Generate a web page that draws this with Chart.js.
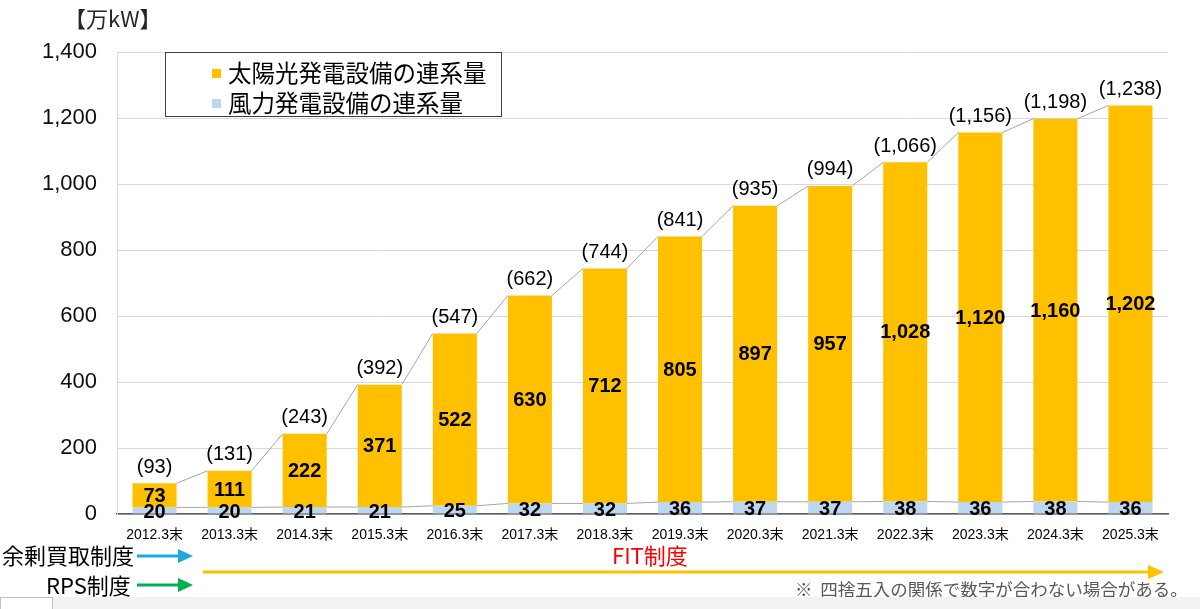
<!DOCTYPE html>
<html lang="ja">
<head>
<meta charset="utf-8">
<script src="https://cdn.jsdelivr.net/npm/chart.js@4.4.1/dist/chart.umd.min.js"></script>
<style>
  html, body { margin:0; padding:0; background:#fff; }
  body { width:1200px; height:609px; position:relative; overflow:hidden;
         font-family:'Liberation Sans','Noto Sans CJK JP',sans-serif; }
  #wrap { position:absolute; left:0; top:0; width:1200px; height:609px; }
  .abs { position:absolute; white-space:nowrap; line-height:1; }
  .jp { font-family:'Noto Sans CJK JP','Liberation Sans',sans-serif; }
  #legend { position:absolute; left:165px; top:52px; width:337px; height:65px;
            border:1px solid #404040; background:#fff; box-sizing:border-box; }
  .lg-item { position:absolute; left:46px; height:26px; display:flex; align-items:center; }
  .lg-mark { width:9px; height:9px; margin-right:7px; }
  .lg-text { font-size:23.5px; color:#000; font-family:'Noto Sans CJK JP',sans-serif; line-height:1; }
</style>
</head>
<body>
<div id="wrap"><canvas id="c" width="1200" height="609"></canvas></div>

<div class="abs jp" style="left:64px; top:6px; font-size:22px; color:#262626;">【万kW】</div>
<div id="legend"></div>

<div class="abs jp" style="left:2px; top:543px; font-size:22px; color:#000;">余剰買取制度</div>
<div class="abs jp" style="left:46px; top:573px; font-size:22px; color:#000;">RPS制度</div>
<div class="abs jp" style="left:612px; top:543px; font-size:22px; color:#ff0000;">FIT制度</div>
<div class="abs jp" style="left:795px; top:580px; font-size:17.5px; color:#595959;">※&nbsp;&nbsp;四捨五入の関係で数字が合わない場合がある。</div>

<svg class="abs" style="left:0; top:0;" width="1200" height="609">
  <line x1="137" y1="556" x2="180" y2="556" stroke="#1fa8e0" stroke-width="3"/>
  <polygon points="178,549 193,556 178,563" fill="#1fa8e0"/>
  <line x1="137" y1="585" x2="180" y2="585" stroke="#00b050" stroke-width="3"/>
  <polygon points="178,578 193,585 178,592" fill="#00b050"/>
  <line x1="203" y1="572" x2="1150" y2="572" stroke="#ffc000" stroke-width="3"/>
  <polygon points="1148,565 1164,572 1148,579" fill="#ffc000"/>
  <rect x="0" y="597" width="1200" height="12" fill="#f2f2f2"/>
  <rect x="0.5" y="597.5" width="52" height="12" fill="#fff" stroke="#bfbfbf"/>
</svg>

<script>
// ---- data ----
const categories = ['2012.3末','2013.3末','2014.3末','2015.3末','2016.3末','2017.3末','2018.3末',
                    '2019.3末','2020.3末','2021.3末','2022.3末','2023.3末','2024.3末','2025.3末'];
const solarValues = [73, 111, 222, 371, 522, 630, 712, 805, 897, 957, 1028, 1120, 1160, 1202];
const windValues  = [20, 20, 21, 21, 25, 32, 32, 36, 37, 37, 38, 36, 38, 36];
const totalValues = [93, 131, 243, 392, 547, 662, 744, 841, 935, 994, 1066, 1156, 1198, 1238];
const yTicks = [0, 200, 400, 600, 800, 1000, 1200, 1400];
const solarName = '太陽光発電設備の連系量';
const windName  = '風力発電設備の連系量';

const SOLAR_COLOR = '#ffc000';
const WIND_COLOR  = '#bdd7ee';
const FONT = "'Liberation Sans','Noto Sans CJK JP',sans-serif";

// legend (HTML)
(function(){
  const lg = document.getElementById('legend');
  [[solarName, SOLAR_COLOR, 7],[windName, WIND_COLOR, 37]].forEach(([name,col,top])=>{
    const it = document.createElement('div');
    it.className = 'lg-item'; it.style.top = top + 'px';
    it.innerHTML = '<div class="lg-mark" style="background:'+col+'"></div><div class="lg-text">'+name+'</div>';
    lg.appendChild(it);
  });
})();

const fmt = v => v.toLocaleString('en-US');

const labelPlugin = {
  id: 'labelsAndSeriesLines',
  afterDatasetsDraw(chart) {
    const ctx = chart.ctx;
    const windMeta = chart.getDatasetMeta(0);
    const solarMeta = chart.getDatasetMeta(1);
    ctx.save();
    // series lines
    ctx.strokeStyle = '#a6a6a6';
    ctx.lineWidth = 1;
    [windMeta, solarMeta].forEach(meta => {
      for (let i = 0; i < meta.data.length - 1; i++) {
        const a = meta.data[i].getProps(['x','y','width'], true);
        const b = meta.data[i+1].getProps(['x','y','width'], true);
        ctx.beginPath();
        ctx.moveTo(a.x + a.width/2, a.y);
        ctx.lineTo(b.x - b.width/2, b.y);
        ctx.stroke();
      }
    });
    // labels
    ctx.fillStyle = '#000';
    ctx.textAlign = 'center';
    ctx.textBaseline = 'middle';
    ctx.font = 'bold 20px ' + FONT;
    solarMeta.data.forEach((el, i) => {
      const p = el.getProps(['x','y','base'], true);
      ctx.fillText(fmt(solarValues[i]), p.x, (p.y + p.base)/2 + 1);
    });
    windMeta.data.forEach((el, i) => {
      const p = el.getProps(['x','y','base'], true);
      ctx.fillText(fmt(windValues[i]), p.x, (p.y + p.base)/2 + 2);
    });
    ctx.font = '20px ' + FONT;
    ctx.textBaseline = 'bottom';
    solarMeta.data.forEach((el, i) => {
      const p = el.getProps(['x','y'], true);
      ctx.fillText('(' + fmt(totalValues[i]) + ')', p.x, p.y - 6);
    });
    ctx.restore();
  }
};

new Chart(document.getElementById('c'), {
  type: 'bar',
  data: {
    labels: categories,
    datasets: [
      { label: windName, data: windValues, backgroundColor: WIND_COLOR, borderWidth: 0 },
      { label: solarName, data: solarValues, backgroundColor: SOLAR_COLOR, borderWidth: 0 }
    ]
  },
  options: {
    responsive: false,
    animation: false,
    devicePixelRatio: 1,
    datasets: { bar: { categoryPercentage: 1.0, barPercentage: 0.587 } },
    layout: { padding: { left: 0, right: 32, top: 52, bottom: 0 } },
    plugins: { legend: { display: false }, tooltip: { enabled: false } },
    scales: {
      x: {
        stacked: true,
        grid: { display: true, drawOnChartArea: false, drawTicks: false },
        border: { display: true, color: '#595959', width: 1.5 },
        ticks: { color: '#000', font: { family: FONT, size: 14 }, padding: 13, maxRotation: 0, autoSkip: false },
        afterFit: s => { s.height = 95; }
      },
      y: {
        stacked: true,
        min: 0, max: 1400,
        afterBuildTicks: s => { s.ticks = yTicks.map(v => ({ value: v })); },
        grid: { color: '#d9d9d9', lineWidth: 1, drawTicks: false },
        border: { display: true, color: '#d9d9d9' },
        ticks: { color: '#0d0d0d', font: { family: FONT, size: 22 }, padding: 20, callback: v => fmt(v) },
        afterFit: s => { s.width = 117; }
      }
    }
  },
  plugins: [labelPlugin]
});
</script>
</body>
</html>
